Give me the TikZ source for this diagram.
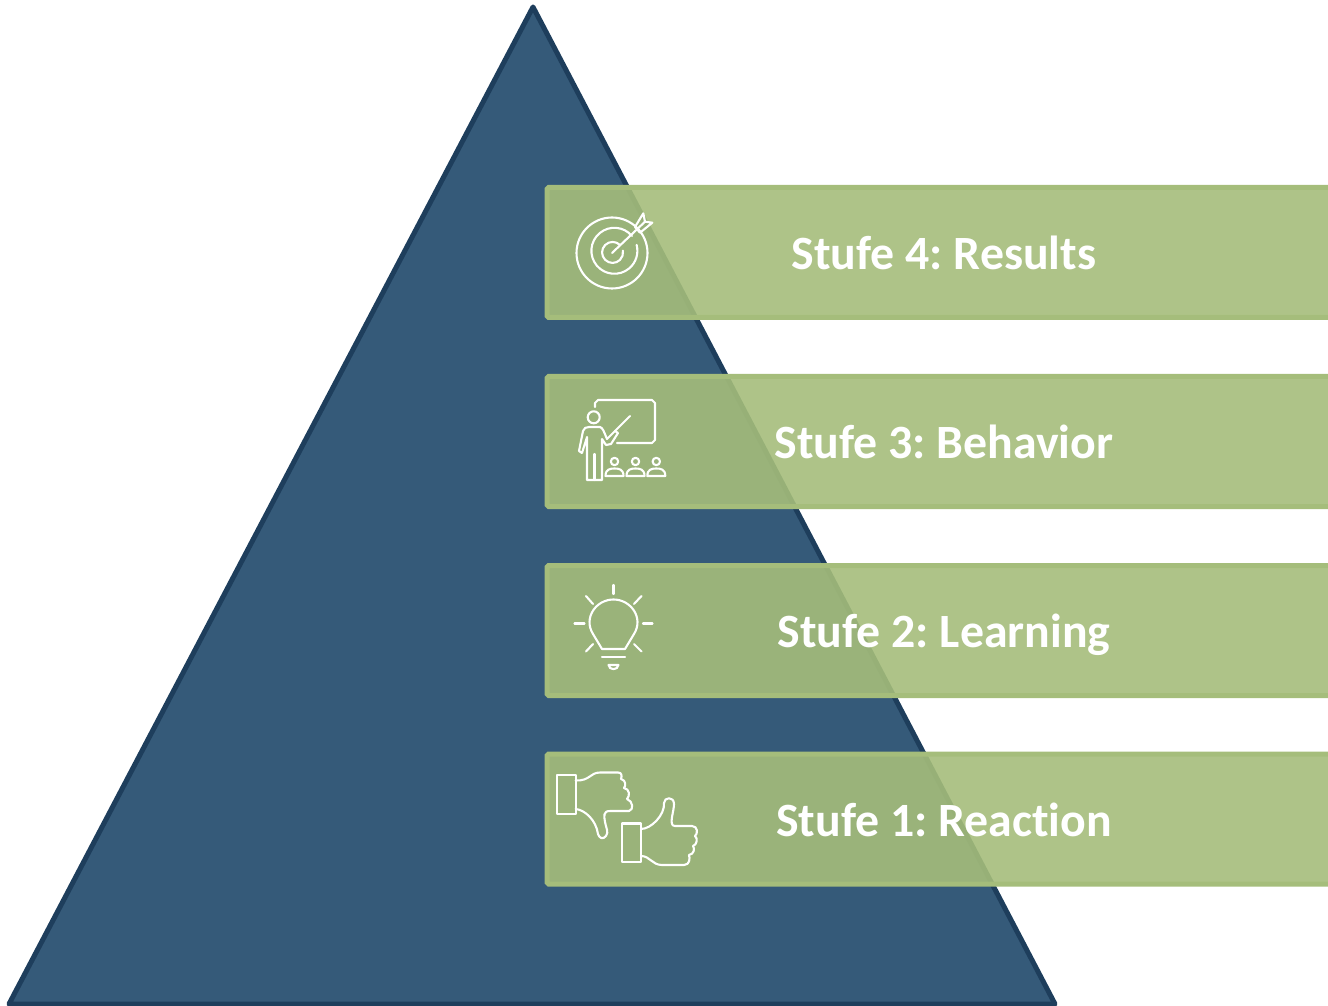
\documentclass[tikz,border=0pt]{standalone}
\usepackage{fontspec}
\setmainfont[Ligatures={NoCommon}]{Carlito}
\frenchspacing
\definecolor{pyramidblue}{HTML}{355A79}
\definecolor{pyramidedge}{HTML}{1E3E5C}
\definecolor{stufegreen}{HTML}{A5BD7B}
\tikzset{
	stufebar/.style={draw=stufegreen, line width=5*0.02cm, fill=stufegreen, fill opacity=0.9, text opacity=1,
		rounded corners=1pt, minimum width=794*0.02cm, minimum height=130*0.02cm, text=white,
		inner ysep=0pt, text height=24pt, text depth=4.4pt,
		font=\bfseries\fontsize{27.2pt}{32pt}\selectfont},
	iconline/.style={draw=white, line width=0.042cm, line cap=round, line join=round},
}

\begin{document}
\begin{tikzpicture}[x=0.02cm, y=-0.02cm]
		%%%%% START %%%%%
		\useasboundingbox (0, 0) rectangle (1328, 1006);
		\clip (0, 0) rectangle (1328, 1006);
		
		% pyramid
		\draw[fill=pyramidblue, draw=pyramidedge, line width=0.1cm, line join=round] (533, 7) -- (1055, 1004) -- (9, 1004) -- cycle;
		
		% bars
		\foreach \nr/\ypos/\stage in {4/252.5/Results, 3/441.5/Behavior, 2/630.5/Learning, 1/819/Reaction}
			\node[stufebar] (stufe\nr) at (944, \ypos) {Stufe \nr: \stage};
		
		% target
		\draw[iconline] (612, 253) circle (35.5);
		\draw[iconline] (632, 236) arc (-40:-375:23);
		\draw[iconline] (620, 245) arc (-45:-370:10.5);
		\draw[iconline] (612, 253) -- (645, 221.7);
		\draw[iconline] (635, 227) -- (643.3, 213.3) -- (645, 221.7) -- (652.3, 222.7) -- (640, 232.7) -- cycle;
		
		% presenter
		\draw[iconline] (595, 407) -- (595, 403) -- ++(3, -3) -- (652, 400) -- ++(3, 3) -- (655, 440) -- ++(-3, 3) -- (617, 443);
		\draw[iconline] (593.7, 417.3) circle (6);
		\draw[iconline] (582, 453) -- (579, 451) -- (583, 431) .. controls (584, 428) and (586, 427) .. (589, 427) -- (600, 427) .. controls (603, 428) and (604, 432) .. (607, 439) -- (615, 431) -- (618, 433) -- (611, 444) -- (606, 445) -- (602, 439) -- (602, 480) -- (587, 480) -- (587, 437) -- (582, 453);
		\draw[iconline] (594.5, 454) -- (594.5, 480);
		\draw[iconline] (615, 431) -- (630, 416);
		\foreach \xpos in {614.5, 635.5, 656.3} {
			\draw[iconline] (\xpos, 461.5) circle (3.7);
			\draw[iconline] (\xpos-9, 476) .. controls (\xpos-9, 469) and (\xpos-4, 468.5) .. (\xpos, 468.5) .. controls (\xpos+4, 468.5) and (\xpos+9, 469) .. (\xpos+9, 476) -- cycle;
		}
		
		% bulb
		\draw[iconline] (602, 649) -- (593, 634) .. controls (583, 618) and (596, 599.5) .. (613.5, 599.5) .. controls (631, 599.5) and (644, 618) .. (634, 634) -- (625, 649) -- cycle;
		\draw[iconline] (613.5, 585) -- (613.5, 594);
		\draw[iconline] (634, 604) -- (641.5, 596);
		\draw[iconline] (643, 623.5) -- (652.5, 623.5);
		\draw[iconline] (634, 644) -- (641.5, 651.5);
		\draw[iconline] (593, 644) -- (586, 651.5);
		\draw[iconline] (584.5, 623.5) -- (574.5, 623.5);
		\draw[iconline] (593, 604) -- (586, 596);
		\draw[iconline] (602, 657) -- (625, 657);
		\draw[iconline] (608.5, 665) .. controls (609, 670.5) and (618, 670.5) .. (618.5, 665) -- cycle;
		
		% thumb down
		\draw[iconline] (556.7, 775) rectangle (575.7, 814);
		\draw[iconline] (575.7, 780.5) .. controls (590, 781) and (590, 772.5) .. (600, 772.5) -- (618, 772.5) .. controls (622, 772.5) and (622, 776) .. (621, 779) .. controls (626, 780) and (626, 786) .. (624, 788) .. controls (630, 789) and (630, 796) .. (627, 799) .. controls (633, 801) and (634, 810) .. (629, 811) -- (610, 811) .. controls (603, 811) and (604, 816) .. (605, 822) .. controls (606, 828) and (609, 832) .. (606, 836) .. controls (603, 840) and (599, 838) .. (598, 834) .. controls (596, 820) and (585, 810) .. (575.7, 809);
		
		% thumb up
		\draw[iconline] (622, 823.5) rectangle (641, 862);
		\draw[iconline] (641, 829) .. controls (651, 829) and (665, 815) .. (664, 803) .. controls (664, 797) and (674, 796) .. (674, 804) .. controls (674, 812) and (668, 826) .. (675, 826) -- (692, 826) .. controls (698, 826) and (698, 834) .. (695, 836) .. controls (698, 838) and (697, 845) .. (693, 846) .. controls (695, 849) and (694, 854) .. (689, 855) .. controls (690, 858) and (690, 865) .. (684, 865) -- (662, 865) .. controls (652, 865) and (650, 856) .. (641, 856);
		
		%%%%% END %%%%%
	\end{tikzpicture}
\end{document}
